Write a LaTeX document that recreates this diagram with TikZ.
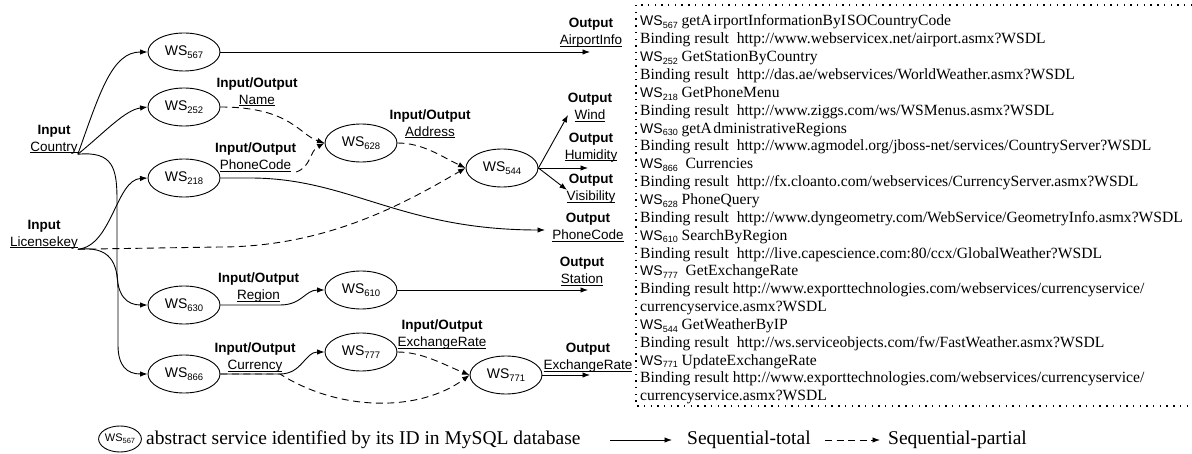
\documentclass[tikz,border=0pt]{standalone}
\usepackage{fontspec}
\setmainfont{Liberation Serif}
\setsansfont{Liberation Sans}
\usetikzlibrary{arrows.meta,shapes.geometric}

% service identifier with a lowered small number
\newcommand\wsid[1]{WS\raisebox{-0.22em}{\fontsize{9.5}{9.5}\selectfont #1}}
% service identifier inside the catalogue lines
\newcommand\wsl[1]{{\sffamily\fontsize{14}{14}\selectfont WS\raisebox{-0.2em}{\fontsize{9}{9}\selectfont #1}}}
% flat underline just below the baseline
\newsavebox\ulbox
\newcommand\ul[1]{\sbox\ulbox{#1}\rlap{\rule[-1.8pt]{\wd\ulbox}{0.8pt}}\usebox\ulbox}

\begin{document}
\begin{tikzpicture}[x=1pt,y=-1pt,
  svc/.style={ellipse, draw, line width=0.9pt, fill=white,
    minimum width=72pt, minimum height=38pt, inner sep=0pt,
    font=\sffamily\fontsize{14}{14}\selectfont},
  lbl/.style={align=center, inner sep=0pt,
    font=\sffamily\fontsize{13.5}{17}\selectfont},
  seqtotal/.style={line width=0.9pt, -{Latex[length=7.5pt,width=5.5pt]}},
  seqpartial/.style={seqtotal, dash pattern=on 7pt off 4.5pt},
  boxline/.style={line width=1.1pt, dash pattern=on 1.4pt off 5.3pt},
  catline/.style={anchor=base west, inner sep=0pt,
    font=\rmfamily\fontsize{15.6}{17}\selectfont},
  legtext/.style={anchor=base west, inner sep=0pt,
    font=\rmfamily\fontsize{19.5}{22}\selectfont}]

\fill[white] (0,0) rectangle (1192,454);
\useasboundingbox (0,0) rectangle (1192,454);

% ---- services ----
\node[svc] (ws567) at (184,52)  {\wsid{567}};
\node[svc] (ws252) at (184,107) {\wsid{252}};
\node[svc] (ws218) at (184,178) {\wsid{218}};
\node[svc] (ws630) at (184,305) {\wsid{630}};
\node[svc] (ws866) at (184,374) {\wsid{866}};
\node[svc] (ws628) at (361,143) {\wsid{628}};
\node[svc] (ws544) at (502,168) {\wsid{544}};
\node[svc] (ws610) at (361,290) {\wsid{610}};
\node[svc] (ws777) at (361,352) {\wsid{777}};
\node[svc] (ws771) at (506,375) {\wsid{771}};

% ---- parameter labels ----
\node[lbl] (inCountry) at (54,139.5)   {\textbf{Input}\\\ul{Country}};
\node[lbl] (inLicense) at (44,234.5)   {\textbf{Input}\\\ul{Licensekey}};
\node[lbl] (ioName)    at (257,92)     {\textbf{Input/Output}\\\ul{Name}};
\node[lbl] (ioPhone)   at (255.5,157.5){\textbf{Input/Output}\\\ul{PhoneCode}};
\node[lbl] (ioAddress) at (430,124)    {\textbf{Input/Output}\\\ul{Address}};
\node[lbl] (ioRegion)  at (258.5,288)  {\textbf{Input/Output}\\\ul{Region}};
\node[lbl] (ioCurrency) at (255,358)   {\textbf{Input/Output}\\\ul{Currency}};
\node[lbl] (ioRate)    at (442,335)    {\textbf{Input/Output}\\\ul{ExchangeRate}};
\node[lbl] (outAirport) at (591,33)    {\textbf{Output}\\\ul{AirportInfo}};
\node[lbl] (outWind)    at (590,107.5) {\textbf{Output}\\\ul{Wind}};
\node[lbl] (outHumidity) at (591,147.5){\textbf{Output}\\\ul{Humidity}};
\node[lbl] (outVisibility) at (591,189){\textbf{Output}\\\ul{Visibility}};
\node[lbl] (outPhone)   at (588,227.5) {\textbf{Output}\\\ul{PhoneCode}};
\node[lbl] (outStation) at (582,271.5) {\textbf{Output}\\\ul{Station}};
\node[lbl] (outRate)    at (588,358)   {\textbf{Output}\\\ul{ExchangeRate}};

% ---- free ends of the output arrows ----
\coordinate (tAirport)    at (590,52);
\coordinate (tWind)       at (568,115);
\coordinate (tHumidity)   at (588,168);
\coordinate (tVisibility) at (567,190);
\coordinate (tPhone)      at (545,230);
\coordinate (tStation)    at (588,290);
\coordinate (tRate)       at (590,375);

% ---- inputs to the first services ----
\draw[seqtotal] (inCountry.south east) .. controls (100,92) and (112,52) .. (ws567.west);
\draw[seqtotal] (inCountry.south east) .. controls (105,132) and (125,110) .. (ws252.west);
\draw[seqtotal] (inCountry.south east) .. controls (113,151) and (117,168) .. (117,200)
   -- (117,272) .. controls (117,296) and (127,305) .. (ws630.west);
\draw[seqtotal] (inLicense.south east) .. controls (112,246) and (116,180) .. (ws218.west);
\draw[seqtotal] (inLicense.south east) .. controls (110,246) and (118,262) .. (118,290)
   -- (118,345) .. controls (118,366) and (127,374) .. (ws866.west);
\draw[seqpartial] (inLicense.south east) -- (220,247) .. controls (330,247) and (410,200) .. (ws544.west);

% ---- service chains ----
\draw[seqtotal] (ws567.east) -- (tAirport);
\draw[seqpartial] (ws252.east) .. controls +(70,0) and +(-25,-8) .. (ws628.west);
\draw[seqpartial] (ioPhone.south east) .. controls +(15,-5) and +(-15,8) .. (ws628.west);
\draw[seqtotal] (ws218.east) -- (250,178) .. controls (350,178) and (400,230) .. (tPhone);
\draw[seqpartial] (ws628.east) .. controls +(25,0) and +(-25,-12) .. (ws544.west);
\draw[seqtotal] (ws544.east) -- (tWind);
\draw[seqtotal] (ws544.east) -- (tHumidity);
\draw[seqtotal] (ws544.east) -- (tVisibility);
\draw[seqtotal] (ws630.east) -- (280,305) .. controls (302,305) and (305,290) .. (ws610.west);
\draw[seqtotal] (ws610.east) -- (tStation);
\draw[seqtotal] (ws866.east) -- (280,374) .. controls (302,374) and (305,352) .. (ws777.west);
\draw[seqpartial] (ws866.east) -- (280,374) .. controls (340,412) and (420,412) .. (ws771.west);
\draw[seqpartial] (ws777.east) .. controls +(25,0) and +(-25,-10) .. (ws771.west);
\draw[seqtotal] (ws771.east) -- (tRate);

% ---- binding catalogue ----
\draw[boxline] (1192,5) -- (636,5) -- (636,406) -- (1192,406);
\foreach \t [count=\i from 0] in {
  {\wsl{567} getA\kern1.5pt irportInformationByI\kern1pt SOCountryCode},
  {Binding result\ \ http://www.webservicex.net/airport.asmx?WSDL},
  {\wsl{252} GetStationByCountry},
  {Binding result\ \ http://das.ae/webservices/WorldWeather.asmx?WSDL},
  {\wsl{218} GetPhoneMenu},
  {Binding result\ \ http://www.ziggs.com/ws/WSMenus.asmx?WSDL},
  {\wsl{630} getA\kern1.5pt dministrativeRegions},
  {Binding result\ \ http://www.agmodel.org/jboss-net/services/CountryServer?WSDL},
  {\wsl{866}\ \ Currencies},
  {Binding result\ \ http://fx.cloanto.com/webservices/CurrencyServer.asmx?WSDL},
  {\wsl{628} PhoneQuery},
  {Binding result\ \ http://www.dyngeometry.com/WebService/GeometryInfo.asmx?WSDL},
  {\wsl{610} SearchByRegion},
  {Binding result\ \ http://live.capescience.com:80/ccx/GlobalWeather?WSDL},
  {\wsl{777}\ \ GetExchangeRate},
  {Binding result http://www.exporttechnologies.com/webservices/currencyservice/},
  {currencyservice.asmx?WSDL},
  {\wsl{544} GetWeatherByIP},
  {Binding result\ \ http://ws.serviceobjects.com/fw/FastWeather.asmx?WSDL},
  {\wsl{771} UpdateExchangeRate},
  {Binding result http://www.exporttechnologies.com/webservices/currencyservice/},
  {currencyservice.asmx?WSDL}}
  \node[catline] (cat\i) at (640,{26+\i*17.85}) {\t};

% ---- legend ----
\node[svc, minimum width=40pt, minimum height=26pt,
      font=\sffamily\fontsize{11}{11}\selectfont] (legsvc) at (120,439)
      {WS\raisebox{-0.2em}{\fontsize{7.5}{7.5}\selectfont 567}};
\node[legtext] (legsvctext) at (146,444) {abstract service identified by its ID in MySQL database};
\coordinate (legA1) at (610,440);
\coordinate (legA2) at (672,440);
\draw[seqtotal] (legA1) -- (legA2);
\node[legtext] (legtotal) at (687,444) {Sequential-total};
\coordinate (legB1) at (825,440);
\coordinate (legB2) at (880,440);
\draw[seqpartial] (legB1) -- (legB2);
\node[legtext] (legpartial) at (888,444) {Sequential-partial};
\end{tikzpicture}
\end{document}
